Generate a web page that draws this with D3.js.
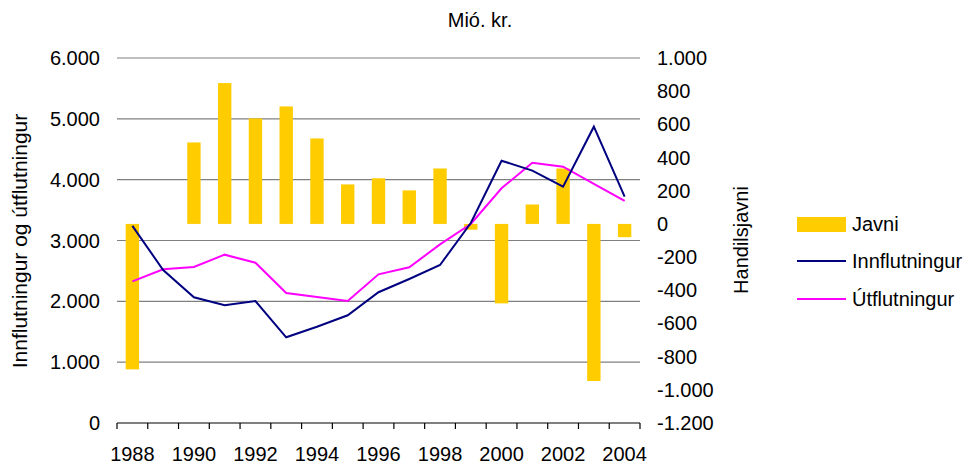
<!DOCTYPE html>
<html>
<head>
<meta charset="utf-8">
<script src="https://cdn.jsdelivr.net/npm/d3@7"></script>
<style>
  body { margin: 0; background: #fff; }
  svg text { font-family: "Liberation Sans", Arial, sans-serif; fill: #000; }
</style>
</head>
<body>
<div id="chart"></div>
<script>
var years = ['1988', '1989', '1990', '1991', '1992', '1993', '1994', '1995', '1996',
             '1997', '1998', '1999', '2000', '2001', '2002', '2003', '2004'];
var innflutningur = [3240, 2515, 2066, 1935, 2005, 1409, 1583, 1771, 2150,
                     2367, 2597, 3288, 4312, 4148, 3885, 4871, 3720];
var utflutningur = [2329, 2526, 2564, 2767, 2635, 2137, 2071, 2005, 2444,
                    2559, 2937, 3271, 3858, 4279, 4214, 3929, 3650];
var javni = [-877, 0, 491, 849, 636, 708, 515, 238, 275,
             202, 334, -35, -479, 117, 334, -947, -80];
var leftTicks = [0, 1000, 2000, 3000, 4000, 5000, 6000];
var rightTicks = [1000, 800, 600, 400, 200, 0, -200, -400, -600, -800, -1000, -1200];
var yearLabels = ['1988', '1990', '1992', '1994', '1996', '1998', '2000', '2002', '2004'];

var W = 970, H = 467;
var plot = {left: 117, right: 640, top: 58, bottom: 423};

var locale = d3.formatLocale({decimal: ',', thousands: '.', grouping: [3], currency: ['', ''], minus: '-'});
var fmt = locale.format(',d');

var svg = d3.select('#chart').append('svg')
    .attr('width', W)
    .attr('height', H);

var x = d3.scaleBand().domain(years).range([plot.left, plot.right]).paddingInner(0).paddingOuter(0);
var yL = d3.scaleLinear().domain([0, 6000]).range([plot.bottom, plot.top]);
var yR = d3.scaleLinear().domain([-1200, 1000]).range([plot.bottom, plot.top]);

// Gridlines.
svg.append('g')
    .selectAll('line')
    .data(leftTicks.filter(function(d) { return d > 0; }))
    .enter().append('line')
    .attr('x1', plot.left).attr('x2', plot.right)
    .attr('y1', function(d) { return yL(d); })
    .attr('y2', function(d) { return yL(d); })
    .attr('stroke', '#808080')
    .attr('stroke-width', 1.2);

// Bars.
var barW = x.bandwidth() / 2.3;
svg.append('g')
    .selectAll('rect')
    .data(javni)
    .enter().append('rect')
    .attr('x', function(d, i) { return x(years[i]) + (x.bandwidth() - barW) / 2; })
    .attr('width', barW)
    .attr('y', function(d) { return Math.min(yR(d), yR(0)); })
    .attr('height', function(d) { return Math.abs(yR(d) - yR(0)); })
    .attr('fill', '#FFCC00');

// Lines.
var line = d3.line()
    .x(function(d, i) { return x(years[i]) + x.bandwidth() / 2; })
    .y(function(d) { return yL(d); });

svg.append('path')
    .datum(utflutningur)
    .attr('d', line)
    .attr('fill', 'none')
    .attr('stroke', '#FF00FF')
    .attr('stroke-width', 2);

svg.append('path')
    .datum(innflutningur)
    .attr('d', line)
    .attr('fill', 'none')
    .attr('stroke', '#000080')
    .attr('stroke-width', 2);

// X axis.
var xAxis = svg.append('g');
xAxis.append('line')
    .attr('x1', plot.left).attr('x2', plot.right)
    .attr('y1', plot.bottom).attr('y2', plot.bottom)
    .attr('stroke', '#000').attr('stroke-width', 1.2);
xAxis.selectAll('.tick')
    .data(d3.range(years.length + 1))
    .enter().append('line')
    .attr('x1', function(i) { return plot.left + i * x.step(); })
    .attr('x2', function(i) { return plot.left + i * x.step(); })
    .attr('y1', plot.bottom).attr('y2', plot.bottom + 6)
    .attr('stroke', '#000').attr('stroke-width', 1.2);
xAxis.selectAll('text')
    .data(yearLabels)
    .enter().append('text')
    .attr('x', function(d) { return x(d) + x.bandwidth() / 2; })
    .attr('y', 461)
    .attr('text-anchor', 'middle')
    .attr('font-size', 20)
    .text(function(d) { return d; });

// Left axis labels.
svg.append('g').selectAll('text')
    .data(leftTicks)
    .enter().append('text')
    .attr('x', 100)
    .attr('y', function(d) { return yL(d) + 7; })
    .attr('text-anchor', 'end')
    .attr('font-size', 20)
    .text(function(d) { return fmt(d); });

// Right axis labels.
svg.append('g').selectAll('text')
    .data(rightTicks)
    .enter().append('text')
    .attr('x', 657)
    .attr('y', function(d) { return yR(d) + 7; })
    .attr('font-size', 20)
    .text(function(d) { return fmt(d); });

// Titles.
svg.append('text')
    .attr('x', 480).attr('y', 27)
    .attr('text-anchor', 'middle')
    .attr('font-size', 20)
    .text('Mió. kr.');

svg.append('text')
    .attr('transform', 'translate(27,241) rotate(-90)')
    .attr('text-anchor', 'middle')
    .attr('font-size', 21)
    .text('Innflutningur og útflutningur');

svg.append('text')
    .attr('transform', 'translate(748,240) rotate(-90)')
    .attr('text-anchor', 'middle')
    .attr('font-size', 20)
    .text('Handilsjavni');

// Legend.
var legend = svg.append('g');
legend.append('rect')
    .attr('x', 797).attr('y', 217).attr('width', 49).attr('height', 15)
    .attr('fill', '#FFCC00');
legend.append('line')
    .attr('x1', 797).attr('x2', 846).attr('y1', 261).attr('y2', 261)
    .attr('stroke', '#000080').attr('stroke-width', 2);
legend.append('line')
    .attr('x1', 797).attr('x2', 846).attr('y1', 299).attr('y2', 299)
    .attr('stroke', '#FF00FF').attr('stroke-width', 2);
legend.selectAll('text')
    .data([['Javni', 224], ['Innflutningur', 261], ['Útflutningur', 299]])
    .enter().append('text')
    .attr('x', 852)
    .attr('y', function(d) { return d[1] + 7; })
    .attr('font-size', 20)
    .text(function(d) { return d[0]; });
</script>
</body>
</html>
